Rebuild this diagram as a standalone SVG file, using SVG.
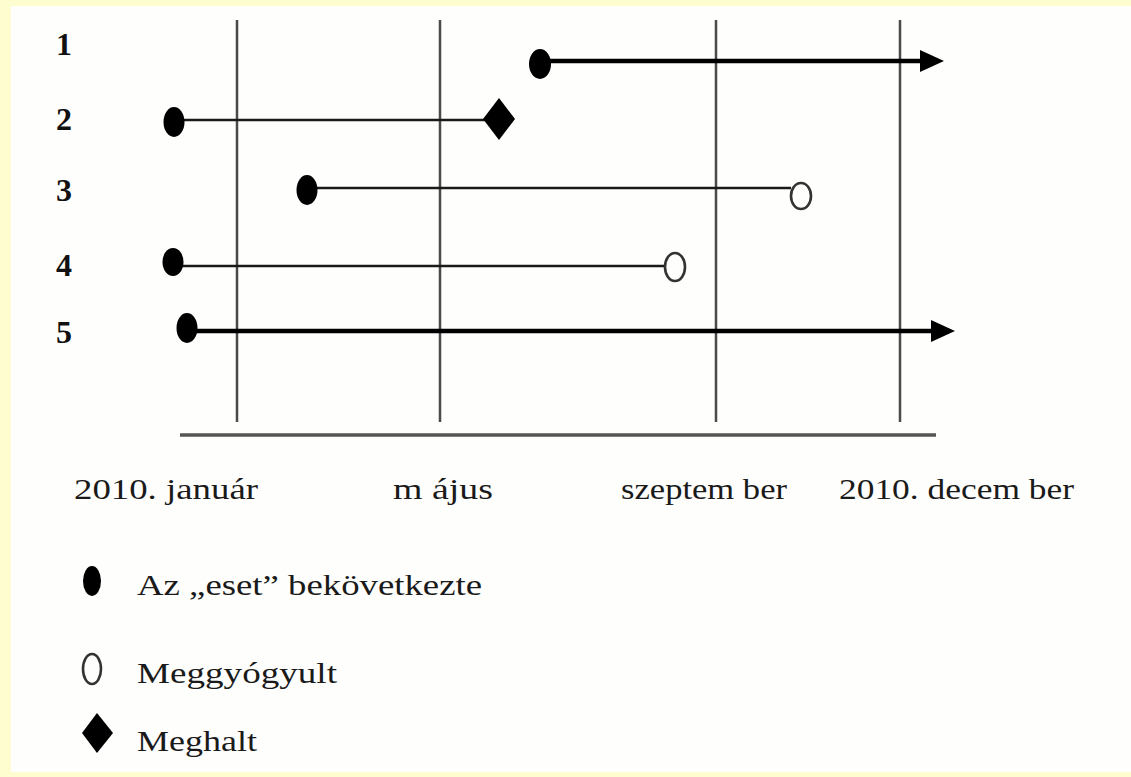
<svg xmlns="http://www.w3.org/2000/svg" width="1131" height="777" viewBox="0 0 1131 777">
<defs>
<style>
.grid{stroke:#4a4a4a;stroke-width:2.5;fill:none}
.thin{stroke:#1a1a1a;stroke-width:2.5;fill:none}
.thick{stroke:#000;stroke-width:4.5;fill:none}
.dot{fill:#000}
.heal{fill:none;stroke:#333;stroke-width:2.6}
.row{font-family:"Liberation Serif",serif;font-weight:bold;font-size:32px;fill:#111}
.ax{font-family:"Liberation Serif",serif;font-size:29px;fill:#1a1a1a}
.lg{font-family:"Liberation Serif",serif;font-size:29px;fill:#1a1a1a}
</style>
<marker id="arr" viewBox="0 0 24 22" refX="2" refY="11" markerWidth="24" markerHeight="22" markerUnits="userSpaceOnUse" orient="auto">
<path d="M0,0 L24,11 L0,22 z" fill="#000"/>
</marker>
</defs>
<rect x="0" y="0" width="1131" height="777" fill="#fefdcf"/>
<rect x="11" y="6" width="1120" height="766" fill="#fefefc"/>

<g id="grid">
<line class="grid" x1="237" y1="20" x2="237" y2="422"/>
<line class="grid" x1="440" y1="20" x2="440" y2="422"/>
<line class="grid" x1="716" y1="20" x2="716" y2="422"/>
<line class="grid" x1="900" y1="20" x2="900" y2="422"/>
<line x1="180" y1="435" x2="936" y2="435" stroke="#555" stroke-width="3.5"/>
</g>

<g id="row-labels">
<text class="row" x="56" y="55">1</text>
<text class="row" x="56" y="130">2</text>
<text class="row" x="56" y="201">3</text>
<text class="row" x="56" y="276">4</text>
<text class="row" x="56" y="343">5</text>
</g>

<g id="axis-labels">
<text class="ax" x="74" y="499" textLength="184" lengthAdjust="spacingAndGlyphs">2010. január</text>
<text class="ax" x="393" y="499" textLength="100" lengthAdjust="spacingAndGlyphs">m ájus</text>
<text class="ax" x="621" y="499" textLength="166" lengthAdjust="spacingAndGlyphs">szeptem ber</text>
<text class="ax" x="839" y="499" textLength="235" lengthAdjust="spacingAndGlyphs">2010. decem ber</text>
</g>

<g id="connectors">
<line class="thick" x1="548" y1="61" x2="922" y2="61" marker-end="url(#arr)"/>
<line class="thin" x1="180" y1="120" x2="486" y2="120"/>
<line class="thin" x1="312" y1="188" x2="791" y2="188"/>
<line class="thin" x1="180" y1="266" x2="665" y2="266"/>
<line class="thick" x1="194" y1="331" x2="933" y2="331" marker-end="url(#arr)"/>
</g>

<g id="case1"><ellipse class="dot" cx="540" cy="64" rx="11" ry="15"/></g>
<g id="case2">
<ellipse class="dot" cx="174" cy="122" rx="10.5" ry="15"/>
<path class="dot" d="M499,98 L515,119 L499,140 L483,119 z"/>
</g>
<g id="case3">
<ellipse class="dot" cx="307" cy="190" rx="10.5" ry="15"/>
<ellipse class="heal" cx="801" cy="196" rx="10" ry="13"/>
</g>
<g id="case4">
<ellipse class="dot" cx="173" cy="262" rx="10.5" ry="14"/>
<ellipse class="heal" cx="675" cy="267" rx="10" ry="14"/>
</g>
<g id="case5"><ellipse class="dot" cx="187" cy="328" rx="10.5" ry="15"/></g>

<g id="legend">
<ellipse class="dot" cx="92" cy="581" rx="9" ry="15"/>
<text class="lg" x="137" y="595" textLength="345" lengthAdjust="spacingAndGlyphs">Az „eset” bekövetkezte</text>
<ellipse class="heal" cx="92" cy="669" rx="9" ry="15"/>
<text class="lg" x="137" y="683" textLength="200" lengthAdjust="spacingAndGlyphs">Meggyógyult</text>
<path class="dot" d="M97,713 L113,733 L97,753 L82,733 z"/>
<text class="lg" x="137" y="751" textLength="120" lengthAdjust="spacingAndGlyphs">Meghalt</text>
</g>
</svg>
